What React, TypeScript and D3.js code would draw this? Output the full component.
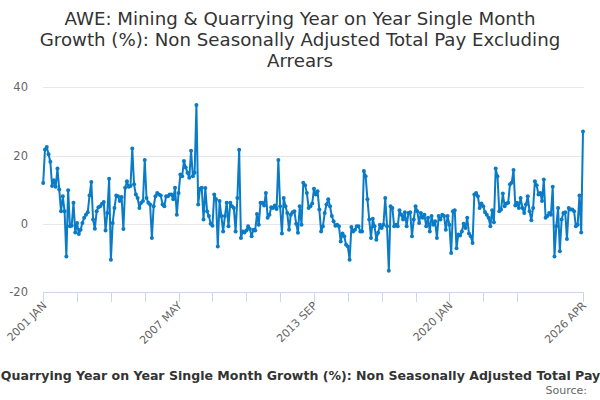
import React, { useEffect, useRef } from "react";
import * as d3 from "d3";

const titleLines = [
  "AWE: Mining & Quarrying Year on Year Single Month",
  "Growth (%): Non Seasonally Adjusted Total Pay Excluding",
  "Arrears",
];
const seriesName =
  "AWE: Mining & Quarrying Year on Year Single Month Growth (%): Non Seasonally Adjusted Total Pay Excluding Arrears";
const seriesPrefixHidden = "AWE: Mining & ";
const sourceText = "Source:";

const startYear = 2001;
const startMonth = 0; // January

const values = [
  12, 21.8, 22.5, 20.4, 18.2, 11.1, 12.8, 10.9, 16.2, 10.1, 3.7, 8.1, 3.7, -9.5, 9.9, -0.7, -0.5, 6.2, -2.5, 0.3,
  -2.9, -1.7, 0.3, 1.8, 2.7, 3.4, 8.3, 12.3, 1.3, -1.4, 3.7, 4.9, 5.2, 5.9, 6.4, -1.9, 3.2, 13.2, -10.5, 0.3,
  4.7, 8.3, 8.1, 6.7, 7.9, -1.5, 10.6, 12.5, 10.9, 11.1, 22.1, 11.6, 8.6, 7.6, 4.7,
  6.2, 6.7, 18.7, 7.6, 6.2, 5.7, -4.1, 5.2, 8.1, 9.1, 8.6, 8.3, 5.7, 5.2, 8.1, 8.1, 8.6, 8.6, 7.2, 10.6,
  2.7, 9.1, 14.5, 14.0, 18.4, 16.5, 15.0, 13.5, 21.4, 14.0, 15.0, 34.8, 5.7, 10.3, 10.6, 1.3, 10.5,
  3.7, 2.3, 0.1, -0.5, 8.6, 7.2, -6.6, 6.7, 2.3, -2.2, 2.3, 6.2, -0.7, 6.2, 5.2, 4.7, -2.2, 7.6, 21.7,
  -4.1, -2.2, -2.5, -1.9, -0.7, -1.5, -3.6, -1.7, -1.9, 2.9, -0.2, 6.2, 6.2, 5.4, 9.1, 1.8, 2.7, 4.9, 4.7, 5.4,
  4.4, 18.7, 5.2, -2.8, 7.6, 5.2, 3.2, -1.7, 2.7, 3.4, 3.7, 0.1, -2.6, 5.2, -0.2, 12.1, 11.3, 9.1, 4.7, 5.2,
  6.0, 10.3, 8.6, 9.6, 4.2, -2.2, -0.7, 3.2, 5.7, 7.2, 5.2, 2.3, 0.8, -0.5, -0.2, -0.7, -5.1, -2.8, -3.6, -6.1,
  -6.6, -10.5, -0.9, -2.2, -1.7, -0.7, -0.7, -2.2,
  -2.2, 15.5, 14.0, 7.2, 1.3, -4.1, 1.5, -0.7, -4.6, -2.6, -0.2, -1.2, -0.2, 7.6, -0.7, -13.7, 5.2, 4.7, -0.7, -0.2,
  -0.7, 4.0, 2.7, 1.3, 3.4, -0.7, 3.2, 3.4, -3.6, 1.3, 5.2, 3.7, 0.3, 3.2, 1.8, 2.7, -0.7, 1.8, -2.2, 2.3,
  -0.2, 0.8, -4.1, 2.3, 1.3, 2.7, 2.3, -1.7, 2.3, -0.2, -8.5, 3.7, 4.0, -7.1, -3.1, -3.4, -2.2, 0.1, -1.2, 1.8, -2.8,
  -3.6, -5.6, 8.6, 9.1, 8.1, 4.7, 6.0, 5.2, 3.4, 2.7, 1.8, -0.7, 4.0, 0.5, 16.2, 14.0, 3.7, 4.2, 8.9, 5.2,
  6.0, 6.2, 11.6, 12.1, 15.8, 5.4, 6.2, 4.7, 7.6, 4.7, 3.2, 5.7, 8.1, 3.7, 1.1, 4.7, 12.5, 11.3, 8.6, 9.1,
  6.7, 13.0, 1.8, 2.3, 3.2, 2.7, 10.9, -9.5, -0.7, 4.7, -8.0, 1.3, 3.2, 3.4, -4.4, 4.7, 4.2, 4.2, 3.7, -0.7,
  -0.2, 8.3, -2.5, 27.1,
];

const yTicks = [-20, 0, 20, 40];
const monthNames = ["JAN", "FEB", "MAR", "APR", "MAY", "JUN", "JUL", "AUG", "SEP", "OCT", "NOV", "DEC"];
const tickStep = 19;
const labelEvery = 4;

const W = 600;
const H = 400;
const M = { left: 43.2, right: 583, top: 87.3, bottom: 292.3 };
const LINE_COLOR = "#0a7bc6";

function monthLabel(i: number) {
  const total = startMonth + i;
  const y = startYear + Math.floor(total / 12);
  return `${y} ${monthNames[total % 12]}`;
}

export default function App() {
  const ref = useRef<SVGSVGElement>(null);

  useEffect(() => {
    const svg = d3.select(ref.current);
    svg.selectAll("*").remove();
    const n = values.length;
    const x = d3.scaleLinear().domain([0, n - 1]).range([M.left, M.right]);
    const y = d3.scaleLinear().domain([-20, 40]).range([M.bottom, M.top]);

    // title
    const t = svg
      .append("text")
      .attr("x", 300)
      .attr("text-anchor", "middle")
      .attr("font-family", "DejaVu Sans")
      .attr("font-size", 18.2)
      .attr("fill", "#333333");
    titleLines.forEach((l, k) => {
      t.append("tspan").attr("x", 300).attr("y", 24.5 + k * 21).text(l);
    });

    // grid
    svg
      .append("g")
      .selectAll("line")
      .data(yTicks.filter((d) => d !== -20))
      .join("line")
      .attr("x1", M.left)
      .attr("x2", M.right + 1)
      .attr("y1", (d) => Math.round(y(d)) + 0.5)
      .attr("y2", (d) => Math.round(y(d)) + 0.5)
      .attr("stroke", "#e6e6e6")
      .attr("stroke-width", 1);

    // y labels
    svg
      .append("g")
      .selectAll("text")
      .data(yTicks)
      .join("text")
      .attr("x", 28)
      .attr("y", (d) => y(d) + 4)
      .attr("text-anchor", "end")
      .attr("font-family", "DejaVu Sans")
      .attr("font-size", 11.5)
      .attr("fill", "#666666")
      .text((d) => String(d));

    // x axis line
    svg
      .append("line")
      .attr("x1", M.left)
      .attr("x2", M.right + 1)
      .attr("y1", Math.round(M.bottom) + 0.5)
      .attr("y2", Math.round(M.bottom) + 0.5)
      .attr("stroke", "#ccd6eb");

    const tickIdx: number[] = [];
    for (let i = 0; i < n; i += tickStep) tickIdx.push(i);
    if (tickIdx[tickIdx.length - 1] !== n - 1) tickIdx[tickIdx.length - 1] = n - 1;
    svg
      .append("g")
      .selectAll("line")
      .data(tickIdx)
      .join("line")
      .attr("x1", (d) => Math.round(x(d)) + 0.5)
      .attr("x2", (d) => Math.round(x(d)) + 0.5)
      .attr("y1", Math.round(M.bottom))
      .attr("y2", Math.round(M.bottom) + 10)
      .attr("stroke", "#ccd6eb");

    const labelIdx = tickIdx.filter((_, k) => k % labelEvery === 0);
    if (labelIdx[labelIdx.length - 1] !== n - 1) labelIdx.push(n - 1);
    svg
      .append("g")
      .selectAll("text")
      .data(labelIdx)
      .join("text")
      .attr("transform", (d) => `translate(${x(d) + 4},${M.bottom + 14}) rotate(-45)`)
      .attr("text-anchor", "end")
      .attr("font-family", "DejaVu Sans")
      .attr("font-size", 11)
      .attr("fill", "#666666")
      .text((d) => monthLabel(d));

    // line
    const line = d3
      .line<number>()
      .x((_, i) => x(i))
      .y((d) => y(d));
    svg
      .append("path")
      .datum(values)
      .attr("d", line)
      .attr("fill", "none")
      .attr("stroke", LINE_COLOR)
      .attr("stroke-width", 2)
      .attr("stroke-linejoin", "round");
    svg
      .append("g")
      .selectAll("circle")
      .data(values)
      .join("circle")
      .attr("cx", (_, i) => x(i))
      .attr("cy", (d) => y(d))
      .attr("r", 2)
      .attr("fill", LINE_COLOR);

    // legend item (wider than the chart, as in the original)
    const fontAttrs = (sel: any) =>
      sel
        .attr("font-family", "DejaVu Sans")
        .attr("font-size", 12.55)
        .attr("font-weight", "bold")
        .attr("fill", "#333333");
    const probe = fontAttrs(svg.append("text")).text(seriesPrefixHidden);
    const prefixW = (probe.node() as SVGTextElement).getComputedTextLength();
    probe.remove();
    fontAttrs(svg.append("text"))
      .attr("x", -prefixW - 3.5)
      .attr("y", 380)
      .attr("text-anchor", "start")
      .text(seriesName);

    svg
      .append("text")
      .attr("x", 587)
      .attr("y", 394)
      .attr("text-anchor", "end")
      .attr("font-family", "DejaVu Sans")
      .attr("font-size", 11)
      .attr("fill", "#666666")
      .text(sourceText);
  }, []);

  return (
    <svg
      ref={ref}
      width={W}
      height={H}
      style={{ position: "absolute", left: 0, top: 0, background: "#ffffff" }}
    />
  );
}
